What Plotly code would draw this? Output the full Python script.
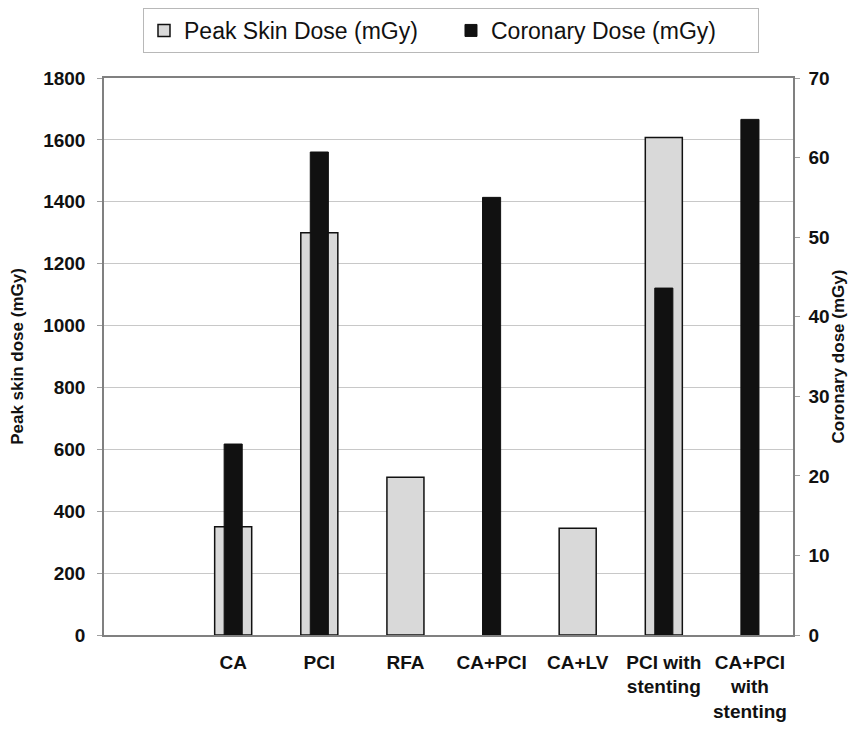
import plotly.graph_objects as go

categories = ["", "CA", "PCI", "RFA", "CA+PCI", "CA+LV", "PCI with<br>stenting", "CA+PCI<br>with<br>stenting"]
peak_skin_dose = [None, 350, 1300, 510, None, 345, 1608, None]
coronary_dose = [None, 24.0, 60.7, None, 55.0, None, 43.6, 64.8]
left_ticks = [0, 200, 400, 600, 800, 1000, 1200, 1400, 1600, 1800]
right_ticks = [0, 10, 20, 30, 40, 50, 60, 70]

x_pos = list(range(len(categories)))
FONT = "Liberation Sans, Arial, sans-serif"

fig = go.Figure()
fig.add_trace(go.Bar(
    x=x_pos, y=peak_skin_dose, name="Peak Skin Dose (mGy)",
    width=0.43, marker=dict(color="#d9d9d9", line=dict(color="#111111", width=1.5)),
    yaxis="y",
))
fig.add_trace(go.Bar(
    x=x_pos, y=coronary_dose, name="Coronary Dose (mGy)",
    width=0.21, marker=dict(color="#111111", line=dict(color="#111111", width=1)),
    yaxis="y2",
))

fig.update_layout(
    width=840, height=714,
    margin=dict(l=96, r=55, t=70, b=87, autoexpand=False),
    paper_bgcolor="white", plot_bgcolor="white",
    barmode="overlay",
    font=dict(family=FONT, color="#111111"),
    showlegend=True,
    legend=dict(
        orientation="h", x=0.0566, xanchor="left", y=1.0, yanchor="top",
        yref="container",
        bordercolor="#b8b8b8", borderwidth=1, bgcolor="white",
        font=dict(size=23, family=FONT, color="#111111"),
        itemwidth=30, entrywidth=262, entrywidthmode="pixels",
    ),
    xaxis=dict(
        tickmode="array", tickvals=x_pos, ticktext=categories,
        range=[-0.5, len(categories) - 0.5],
        showline=True, linecolor="#808080", linewidth=1.5, mirror=True,
        ticks="", showgrid=False, automargin=False,
        ticklabelstandoff=9,
        tickfont=dict(size=19, family=FONT, color="#111111", weight="bold"),
    ),
    yaxis=dict(
        range=[0, 1800], tickmode="array", tickvals=left_ticks,
        showline=True, linecolor="#808080", linewidth=1.5,
        ticks="outside", ticklen=5, tickcolor="#a0a0a0",
        showgrid=True, gridcolor="#c8c8c8", gridwidth=1,
        tickfont=dict(size=19, family=FONT, color="#111111", weight="bold"),
        ticklabelstandoff=8, automargin=False,
        title=dict(text="Peak skin dose (mGy)", font=dict(size=17, family=FONT, weight="bold"), standoff=24),
        zeroline=False,
    ),
    yaxis2=dict(
        range=[0, 70], tickmode="array", tickvals=right_ticks, overlaying="y", side="right",
        showline=True, linecolor="#808080", linewidth=1.5,
        ticks="outside", ticklen=5, tickcolor="#a0a0a0",
        showgrid=False, automargin=False,
        tickfont=dict(size=19, family=FONT, color="#111111", weight="bold"),
        ticklabelstandoff=5,
        title=dict(text="Coronary dose (mGy)", font=dict(size=17, family=FONT, weight="bold"), standoff=5),
        zeroline=False,
    ),
)

fig.write_html("out.html")
